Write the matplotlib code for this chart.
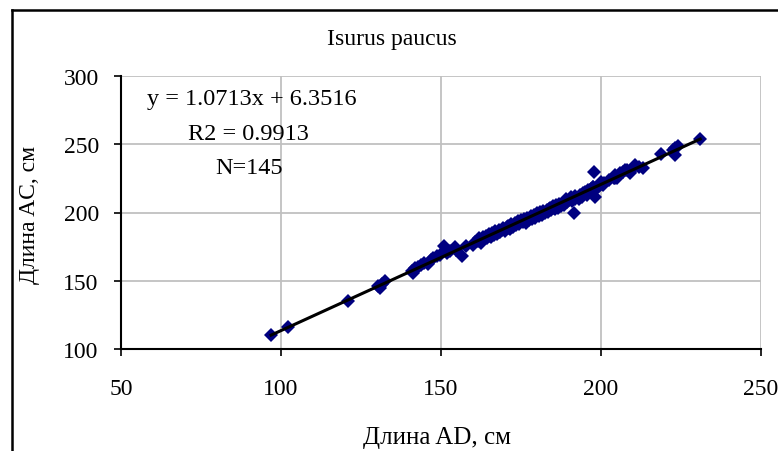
import matplotlib
matplotlib.use("Agg")
import matplotlib.pyplot as plt
from matplotlib.lines import Line2D

plt.rcParams['font.family'] = ['Liberation Serif', 'DejaVu Serif']

title = "Isurus paucus"
x_label = "Длина AD, см"
y_label = "Длина AC, см"
x_ticks = [50, 100, 150, 200, 250]
y_ticks = [100, 150, 200, 250, 300]

slope = 1.0713
intercept = 6.3516
r2 = 0.9913

# Длина AD (x) и Длина AC (y), см
length_ad = [
    96.9, 102.2, 121.0, 130.3, 130.8, 131.6, 132.6, 140.8, 141.3, 141.8,
    142.8, 143.8, 144.8, 145.8, 146.8, 147.6, 148.8, 149.8, 150.8, 151.8,
    152.8, 154.4, 154.8, 156.6, 157.8, 160.0, 160.5, 161.5, 162.0, 162.5,
    163.0, 163.5, 164.0, 164.5, 165.0, 165.5, 166.0, 166.5, 167.0, 167.5,
    168.0, 168.5, 169.0, 169.5, 170.0, 170.5, 171.0, 171.5, 172.0, 172.5,
    173.0, 173.5, 174.0, 174.5, 175.0, 175.5, 176.0, 176.5, 177.0, 177.5,
    178.0, 178.5, 179.0, 179.5, 180.0, 180.5, 181.0, 181.5, 182.0, 182.5,
    183.0, 183.5, 184.0, 184.5, 185.0, 185.5, 186.0, 186.5, 187.0, 187.5,
    188.0, 188.5, 189.0, 189.5, 190.0, 190.5, 191.0, 191.5, 192.0, 191.6,
    193.0, 193.5, 194.0, 194.5, 195.0, 195.5, 196.0, 196.5, 197.0, 197.5,
    198.0, 197.6, 197.8, 198.1, 199.5, 200.0, 200.5, 201.0, 200.7, 202.5,
    204.0, 204.5, 205.0, 204.4, 206.0, 207.0, 208.0, 207.5, 209.1, 209.1,
    210.0, 210.7, 211.8, 213.2, 218.8, 223.2, 223.2, 222.5, 224.2, 231.0,
    168.2, 172.8, 176.2, 178.8, 181.2, 183.8, 186.2, 188.2, 190.2, 170.8,
    165.2, 174.2, 179.8, 185.2, 191.8,
]
length_ac = [
    110.6, 116.0, 135.3, 146.5, 145.0, 147.8, 150.0, 157.5, 156.0, 159.0,
    160.0, 161.5, 163.0, 162.5, 165.0, 167.0, 168.0, 168.5, 175.5, 170.5,
    171.5, 174.5, 172.5, 168.0, 175.5, 176.5, 178.5, 179.0, 181.0, 178.0,
    182.0, 180.5, 183.0, 181.0, 184.5, 182.0, 185.0, 183.5, 186.5, 184.0,
    187.5, 185.5, 187.0, 188.5, 186.5, 189.5, 190.0, 188.0, 191.5, 189.5,
    192.0, 190.5, 193.5, 191.5, 194.5, 193.0, 195.5, 192.5, 196.0, 194.5,
    197.5, 195.5, 198.0, 196.0, 199.5, 197.5, 200.5, 198.5, 201.0, 199.5,
    202.0, 200.5, 203.0, 201.5, 204.5, 202.5, 205.5, 203.0, 206.5, 204.5,
    207.0, 205.5, 210.0, 207.5, 209.0, 211.0, 208.5, 210.5, 212.0, 200.0,
    210.0, 213.0, 211.5, 214.0, 215.0, 212.5, 216.5, 215.0, 217.0, 218.5,
    216.5, 218.5, 229.5, 211.0, 219.5, 222.0, 220.0, 221.5, 221.0, 223.5,
    225.5, 227.5, 225.0, 225.5, 229.0, 229.5, 231.0, 231.0, 229.5, 229.0,
    232.5, 234.5, 233.0, 232.5, 242.5, 242.0, 247.5, 245.5, 248.5, 254.0,
    186.0, 191.0, 194.0, 197.0, 199.0, 202.5, 204.0, 206.0, 210.0, 188.5,
    182.5, 192.5, 198.5, 203.5, 210.0,
]

W, H = 778, 452
fig = plt.figure(figsize=(W / 100, H / 100), dpi=100)
fig.patch.set_facecolor("white")

# chart-area frame (left and top edges)
fig.add_artist(Line2D([12 / W, 12 / W], [0, 1 - 11 / H], color="black", lw=1.8,
                      transform=fig.transFigure))
fig.add_artist(Line2D([12 / W, 1], [1 - 11 / H, 1 - 11 / H], color="black", lw=1.8,
                      transform=fig.transFigure))

left, right = 121 / W, 761 / W
bottom, top = 1 - 350 / H, 1 - 77 / H
ax = fig.add_axes([left, bottom, right - left, top - bottom])

ax.set_xlim(50, 250)
ax.set_ylim(100, 300)
ax.set_xticks(x_ticks)
ax.set_yticks(y_ticks)
ax.grid(True, color="#c0c0c0", lw=1.3)
ax.set_axisbelow(True)

for side in ("top", "right"):
    ax.spines[side].set_visible(False)
for side in ("left", "bottom"):
    ax.spines[side].set_color("black")
    ax.spines[side].set_linewidth(1.5)

ax.tick_params(direction="out", length=5, width=1.2, labelsize=17,
               colors="black")
ax.tick_params(axis="x", pad=16)
ax.tick_params(axis="y", pad=11)

ax.plot(length_ad, length_ac, linestyle="none", marker="D", markersize=7,
        color="#000080", markeredgewidth=0, zorder=3)

x0, x1 = min(length_ad), max(length_ad)
ax.plot([x0, x1], [slope * x0 + intercept, slope * x1 + intercept],
        color="black", lw=2.2, zorder=4)

fig.text(392 / W, 1 - 40 / H, title, ha="center", va="center", fontsize=17)
fig.text(437 / W, 1 - 438 / H, x_label, ha="center", va="center", fontsize=18)
fig.text(30 / W, 1 - 215 / H, y_label, ha="center", va="center", fontsize=17,
         rotation=90)

fig.text(252 / W, 1 - 100 / H, f"y = {slope}x + {intercept}", ha="center",
         va="center", fontsize=17.5)
fig.text(248 / W, 1 - 134 / H, f"R2 = {r2}", ha="center", va="center",
         fontsize=17.5)
fig.text(249 / W, 1 - 168 / H, f"N={len(length_ad)}", ha="center",
         va="center", fontsize=17.5)

fig.savefig("out.png", dpi=100)
